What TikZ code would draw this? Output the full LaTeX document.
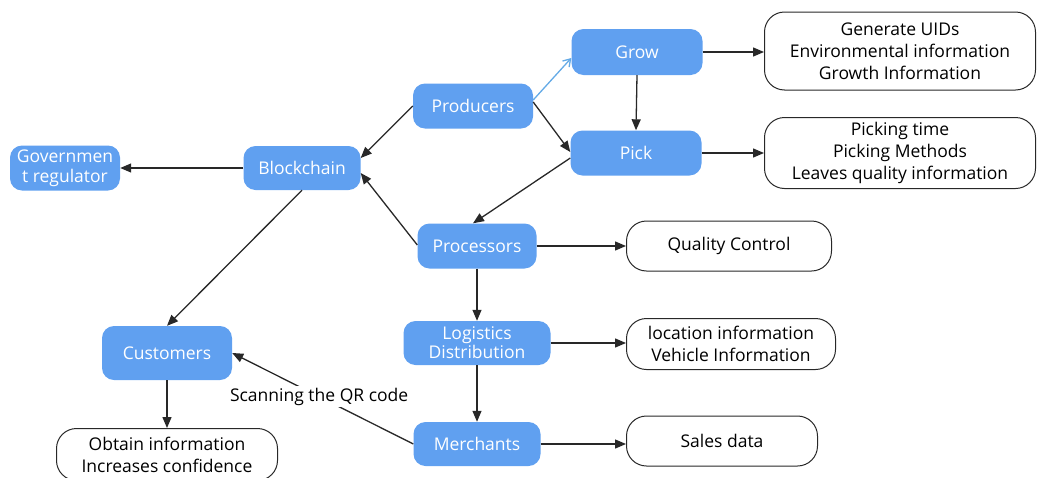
\documentclass[tikz,border=0pt]{standalone}
\usepackage{fontspec}
\setmainfont{Open Sans}
\usetikzlibrary{arrows.meta}
\definecolor{nodeblue}{RGB}{96,160,240}
\definecolor{arrowblue}{RGB}{100,170,230}
\definecolor{lineblack}{RGB}{40,40,40}
\begin{document}
\begin{tikzpicture}[x=1pt,y=-1pt,
  bluebox/.style={fill=nodeblue, draw=none, rounded corners=12pt, text=white, align=center, inner sep=0pt,
    font=\fontsize{17.5}{20}\selectfont},
  infobox/.style={draw=lineblack, line width=1pt, fill=white, rounded corners=20pt, align=center, inner sep=0pt,
    font=\fontsize{17.5}{22}\selectfont, text=black},
  conn/.style={draw=lineblack, line width=1.3pt, -{Triangle[length=11pt,width=9pt]}},
  lightconn/.style={draw=arrowblue, line width=1.3pt, -{Straight Barb[length=7pt,width=9pt]}},
  plainline/.style={draw=lineblack, line width=1.3pt}
]
\useasboundingbox (0,0) rectangle (1039,477);
% blue nodes
\node[bluebox, minimum width=131pt, minimum height=46pt] (grow) at (637,52) {Grow};
\node[bluebox, minimum width=120pt, minimum height=45pt] (prod) at (473,106) {Producers};
\node[bluebox, minimum width=131pt, minimum height=45pt] (pick) at (636,153) {Pick};
\node[bluebox, minimum width=117pt, minimum height=44pt] (bc) at (302,168) {Blockchain};
\node[bluebox, minimum width=110pt, minimum height=45pt] (gov) at (65,168) {Governmen\\t regulator};
\node[bluebox, minimum width=119pt, minimum height=45pt] (proc) at (477,246) {Processors};
\node[bluebox, minimum width=147pt, minimum height=44pt, font=\fontsize{17.5}{19}\selectfont] (log) at (477,343) {Logistics\\Distribution};
\node[bluebox, minimum width=130pt, minimum height=54pt] (cust) at (167,353) {Customers};
\node[bluebox, minimum width=127pt, minimum height=44pt] (merch) at (477,444) {Merchants};
% info boxes
\node[infobox, minimum width=271pt, minimum height=78pt] (ginfo) at (900,51) {Generate UIDs\\Environmental information\\Growth Information};
\node[infobox, minimum width=271pt, minimum height=71pt] (pinfo) at (900,153) {Picking time\\Picking Methods\\Leaves quality information};
\node[infobox, minimum width=205pt, minimum height=50pt] (qc) at (729,246) {Quality Control};
\node[infobox, minimum width=209pt, minimum height=51pt] (loc) at (731,344) {location information\\Vehicle Information};
\node[infobox, minimum width=191pt, minimum height=50pt] (sales) at (722,441) {Sales data};
\node[infobox, minimum width=221pt, minimum height=52pt, anchor=north] (obt) at (167,428) {Obtain information\\Increases confidence};
% connectors
\draw[lightconn] ([yshift=6pt]prod.east) -- ([yshift=-6pt]grow.west);
\draw[conn] ([yshift=4pt]prod.east) -- ([yshift=1pt]pick.west);
\draw[conn] (grow.south) -- (pick.north);
\draw[conn] (grow.east) -- (grow.east -| ginfo.west);
\draw[conn] (pick.east) -- (pick.east -| pinfo.west);
\draw[conn] ([yshift=-5pt]pick.west) -- ([xshift=-4pt]proc.north);
\draw[conn] (prod.west) -- ([yshift=10pt]bc.east);
\draw[conn] ([yshift=1pt]proc.west) -- ([yshift=-5pt]bc.east);
\draw[conn] (bc.west) -- (bc.west -| gov.east);
\draw[conn] (bc.south) -- (cust.north);
\draw[conn] (proc.east) -- (proc.east -| qc.west);
\draw[conn] (proc.south) -- (log.north);
\draw[conn] (log.east) -- (log.east -| loc.west);
\draw[conn] (log.south) -- (merch.north);
\draw[conn] (merch.east) -- (merch.east -| sales.west);
\draw[conn] (cust.south) -- (obt.north);
\draw[conn] (merch.west) -- node[pos=0.52, fill=white, inner sep=2pt, font=\fontsize{17.5}{20}\selectfont, text=black] (qr) {Scanning the QR code} (cust.east);
\end{tikzpicture}
\end{document}
